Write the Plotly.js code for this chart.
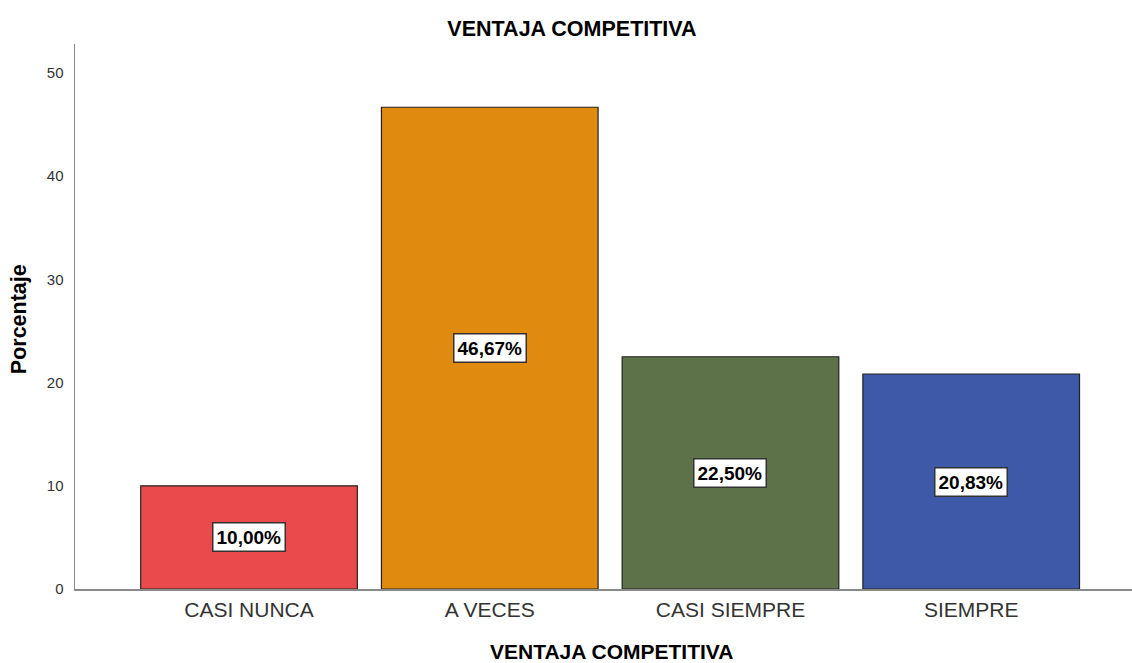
<!DOCTYPE html>
<html>
<head>
<meta charset="utf-8">
<script src="https://cdn.plot.ly/plotly-3.0.1.min.js"></script>
<style>html,body{margin:0;padding:0;background:#fff}#chart{width:1132px;height:663px}</style>
</head>
<body>
<div id="chart"></div>
<script>
const categories = ["CASI NUNCA", "A VECES", "CASI SIEMPRE", "SIEMPRE"];
const percentages = [10.00, 46.67, 22.50, 20.83];
const valueLabels = ["10,00%", "46,67%", "22,50%", "20,83%"];
const barColors = ["#EB4A4C", "#E08A10", "#5E724A", "#3E59A8"];
const yTicks = [0, 10, 20, 30, 40, 50];

const FONT = "Liberation Sans, Arial, sans-serif";

const trace = {
  type: "bar",
  x: categories,
  y: percentages,
  width: 0.9,
  marker: { color: barColors, line: { color: "#222", width: 1.2 } },
  hoverinfo: "none"
};

const annotations = categories.map((c, i) => ({
  x: c, y: percentages[i] / 2, xref: "x", yref: "y",
  text: "<b>" + valueLabels[i] + "</b>",
  showarrow: false,
  font: { family: FONT, size: 19, color: "#000" },
  bgcolor: "#fff", bordercolor: "#333", borderwidth: 1.5, borderpad: 3
}));

annotations.push({
  text: "<b>VENTAJA COMPETITIVA</b>", xref: "paper", yref: "paper",
  x: 0.508, y: -0.114, yanchor: "middle", xanchor: "center", showarrow: false,
  font: { family: FONT, size: 21, color: "#000" }
});
annotations.push({
  text: "<b>Porcentaje</b>", xref: "paper", yref: "paper",
  x: -0.053, y: 0.495, textangle: -90, showarrow: false, xanchor: "center", yanchor: "middle",
  font: { family: FONT, size: 21.5, color: "#000" }
});

const layout = {
  width: 1132, height: 663,
  margin: { l: 75, r: 0, t: 44, b: 74 },
  paper_bgcolor: "#fff", plot_bgcolor: "#fff",
  showlegend: false,
  title: {
    text: "<b>VENTAJA COMPETITIVA</b>",
    x: 572 / 1132, xref: "container", xanchor: "center",
    y: 1 - 28 / 663, yref: "container", yanchor: "middle",
    font: { family: FONT, size: 21.5, color: "#000" }
  },
  xaxis: {
    type: "category",
    range: [-0.723, 3.668],
    showline: true, linecolor: "#8a8a8a", linewidth: 1.5,
    showgrid: false, zeroline: false, ticks: "",
    ticklabelstandoff: 1,
    tickfont: { family: FONT, size: 21, color: "#333" }
  },
  yaxis: {
    range: [0, 52.8],
    tickvals: yTicks,
    ticktext: yTicks.map(String),
    showline: true, linecolor: "#8a8a8a", linewidth: 1.5,
    showgrid: false, zeroline: false, ticks: "",
    ticklabelstandoff: 7,
    tickfont: { family: FONT, size: 15, color: "#333" }
  },
  annotations: annotations
};

Plotly.newPlot("chart", [trace], layout, { displayModeBar: false, staticPlot: true });
</script>
</body>
</html>
